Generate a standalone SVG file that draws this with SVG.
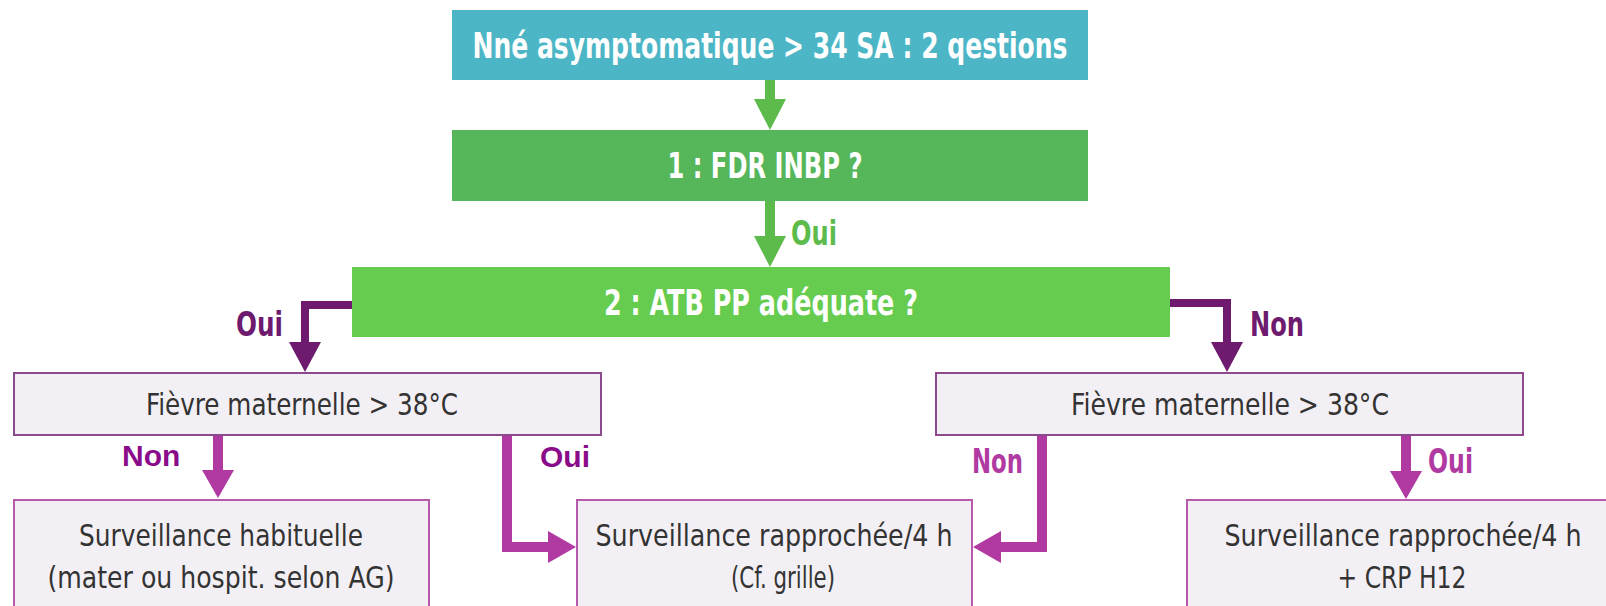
<svg xmlns="http://www.w3.org/2000/svg" width="1606" height="606" viewBox="0 0 1606 606">
  <style>
    .hdr { font-family: "DejaVu Sans Condensed", "Liberation Sans Narrow", "Liberation Sans", sans-serif; font-weight: bold; fill: #ffffff; text-anchor: middle; font-size: 36px; }
    .box { fill: #f3f0f5; stroke-width: 2; }
    .fv { stroke: #8c4a8e; }
    .bt { stroke: #b85aab; }
    .bxt { font-family: "DejaVu Sans Condensed", "Liberation Sans Narrow", "Liberation Sans", sans-serif; fill: #333333; text-anchor: middle; font-size: 31px; }
    .lbc { font-family: "DejaVu Sans Condensed", "Liberation Sans Narrow", "Liberation Sans", sans-serif; font-weight: bold; font-size: 33px; }
    .lba { font-family: "Liberation Sans", Arial, sans-serif; font-weight: bold; font-size: 30px; fill: #8a0c8a; }
    .cg { fill: none; stroke: #5dbb4c; stroke-width: 10; }
    .cp { fill: none; stroke: #6e1a6e; stroke-width: 8; }
    .cm { fill: none; stroke: #b03aa2; stroke-width: 10; }
  </style>
  <defs>
    <marker id="ag" markerUnits="userSpaceOnUse" markerWidth="32" markerHeight="32" refX="10" refY="16" orient="auto">
      <path d="M0,0 L31,16 L0,32 z" fill="#5dbb4c"/>
    </marker>
    <marker id="ap" markerUnits="userSpaceOnUse" markerWidth="30" markerHeight="32" refX="10" refY="16" orient="auto">
      <path d="M0,0 L30,16 L0,32 z" fill="#6e1a6e"/>
    </marker>
    <marker id="am" markerUnits="userSpaceOnUse" markerWidth="28" markerHeight="32" refX="8" refY="16" orient="auto">
      <path d="M0,0 L28,16 L0,32 z" fill="#b03aa2"/>
    </marker>
  </defs>
  <rect width="1606" height="606" fill="#ffffff"/>

  <g id="connectors">
    <path class="cg" d="M770,80 V109" marker-end="url(#ag)"/>
    <path class="cg" d="M770,201 V246" marker-end="url(#ag)"/>
    <path class="cp" d="M352,305 H305 V352" marker-end="url(#ap)"/>
    <path class="cp" d="M1170,303 H1227 V352" marker-end="url(#ap)"/>
    <path class="cm" d="M218,435 V478" marker-end="url(#am)"/>
    <path class="cm" d="M507,435 V547 H556" marker-end="url(#am)"/>
    <path class="cm" d="M1042,435 V547 H993" marker-end="url(#am)"/>
    <path class="cm" d="M1406,435 V479" marker-end="url(#am)"/>
    <text class="lbc" x="791" y="245" fill="#5dbb4c" textLength="46" lengthAdjust="spacingAndGlyphs">Oui</text>
    <text class="lbc" x="236" y="336" fill="#6e1a6e" textLength="47" lengthAdjust="spacingAndGlyphs">Oui</text>
    <text class="lbc" x="1250" y="336" fill="#6e1a6e" textLength="54" lengthAdjust="spacingAndGlyphs">Non</text>
    <text class="lba" x="122" y="466">Non</text>
    <text class="lba" x="540" y="467">Oui</text>
    <text class="lbc" x="972" y="473" fill="#b03aa2" textLength="51" lengthAdjust="spacingAndGlyphs">Non</text>
    <text class="lbc" x="1428" y="473" fill="#b03aa2" textLength="45" lengthAdjust="spacingAndGlyphs">Oui</text>
  </g>

  <g id="start">
    <rect x="452" y="10" width="636" height="70" fill="#4db6c6"/>
    <text class="hdr" x="770" y="58" textLength="595" lengthAdjust="spacingAndGlyphs">Nné asymptomatique &gt; 34 SA : 2 qestions</text>
  </g>
  <g id="q1">
    <rect x="452" y="130" width="636" height="71" fill="#55b65a"/>
    <text class="hdr" x="765" y="178" textLength="195" lengthAdjust="spacingAndGlyphs">1 : FDR INBP ?</text>
  </g>
  <g id="q2">
    <rect x="352" y="267" width="818" height="70" fill="#66cc4f"/>
    <text class="hdr" x="761" y="315" textLength="314" lengthAdjust="spacingAndGlyphs">2 : ATB PP adéquate ?</text>
  </g>
  <g id="fievre-left">
    <rect class="box fv" x="14" y="373" width="587" height="62"/>
    <text class="bxt" x="302" y="415" textLength="312" lengthAdjust="spacingAndGlyphs">Fièvre maternelle &gt; 38°C</text>
  </g>
  <g id="fievre-right">
    <rect class="box fv" x="936" y="373" width="587" height="62"/>
    <text class="bxt" x="1230" y="415" textLength="318" lengthAdjust="spacingAndGlyphs">Fièvre maternelle &gt; 38°C</text>
  </g>
  <g id="surv-habituelle">
    <rect class="box bt" x="14" y="500" width="415" height="112"/>
    <text class="bxt" x="221" y="546" textLength="284" lengthAdjust="spacingAndGlyphs">Surveillance habituelle</text>
    <text class="bxt" x="221" y="588" textLength="347" lengthAdjust="spacingAndGlyphs">(mater ou hospit. selon AG)</text>
  </g>
  <g id="surv-rapprochee">
    <rect class="box bt" x="577" y="500" width="395" height="112"/>
    <text class="bxt" x="774" y="546" textLength="357" lengthAdjust="spacingAndGlyphs">Surveillance rapprochée/4 h</text>
    <text class="bxt" x="783" y="588" textLength="104" lengthAdjust="spacingAndGlyphs">(Cf. grille)</text>
  </g>
  <g id="surv-rapprochee-crp">
    <rect class="box bt" x="1187" y="500" width="425" height="112"/>
    <text class="bxt" x="1403" y="546" textLength="357" lengthAdjust="spacingAndGlyphs">Surveillance rapprochée/4 h</text>
    <text class="bxt" x="1402" y="588" textLength="129" lengthAdjust="spacingAndGlyphs">+ CRP H12</text>
  </g>
</svg>
